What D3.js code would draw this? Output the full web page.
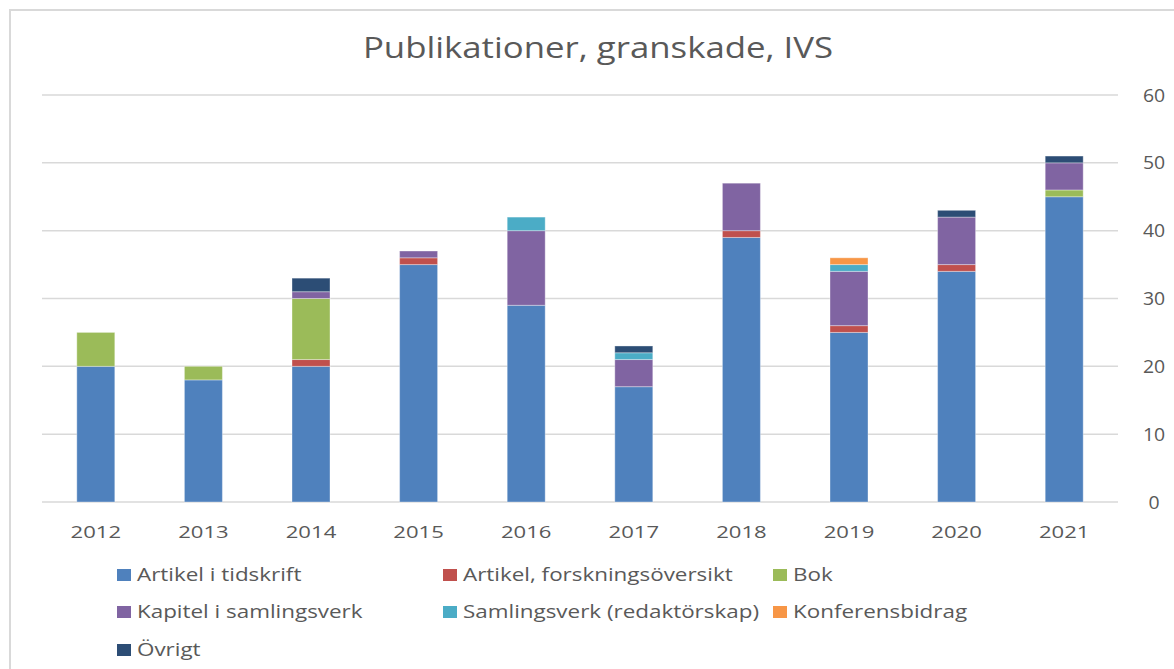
<!DOCTYPE html>
<html><head><meta charset="utf-8">
<script src="https://cdn.jsdelivr.net/npm/d3@7"></script>
<style>body{margin:0;background:#fff;}svg{display:block;font-family:"Open Sans",sans-serif;}</style>
</head><body>
<svg id="c" width="1174" height="669"></svg>
<script>
const years = ["2012","2013","2014","2015","2016","2017","2018","2019","2020","2021"];
const seriesNames = ["Artikel i tidskrift","Artikel, forskningsöversikt","Bok","Kapitel i samlingsverk","Samlingsverk (redaktörskap)","Konferensbidrag","Övrigt"];
const artikel      = [20,18,20,35,29,17,39,25,34,45];
const forskning    = [0,0,1,1,0,0,1,1,1,0];
const bok          = [5,2,9,0,0,0,0,0,0,1];
const kapitel      = [0,0,1,1,11,4,7,8,7,4];
const samlingsverk = [0,0,0,0,2,1,0,1,0,0];
const konferens    = [0,0,0,0,0,0,0,1,0,0];
const ovrigt       = [0,0,2,0,0,1,0,0,1,1];
const yTicks = [0,10,20,30,40,50,60];
const colors = ["#4F81BD","#C0504D","#9BBB59","#8064A2","#4BACC6","#F79646","#2C4D75"];

const seriesVals = [artikel,forskning,bok,kapitel,samlingsverk,konferens,ovrigt];
const rows = years.map((y,i)=>{const o={year:y}; seriesNames.forEach((n,k)=>o[n]=seriesVals[k][i]); return o;});
const stack = d3.stack().keys(seriesNames)(rows);

const svg = d3.select("#c");
const L=42, R=1118, T=95, B=502;
svg.append("rect").attr("x",10).attr("y",10).attr("width",1200).attr("height",700)
  .attr("fill","#fff").attr("stroke","#d9d9d9").attr("stroke-width",2);

const x = d3.scaleBand().domain(years).range([L,R]).paddingInner(0.647).paddingOuter(0.3235);
const y = d3.scaleLinear().domain([0,60]).range([B,T]);

// stretched text helper
function sText(g, sx, size){
  return g.append("text").attr("transform",`scale(${sx},1)`).attr("fill","#595959").attr("font-size",size);
}

svg.append("g").selectAll("line").data(yTicks).join("line")
  .attr("x1",L).attr("x2",R).attr("y1",d=>y(d)).attr("y2",d=>y(d))
  .attr("stroke","#d9d9d9").attr("stroke-width",1.5);

svg.append("g").selectAll("g").data(yTicks).join("g")
  .attr("transform",d=>`translate(1154,${y(d)+6.5})`)
  .each(function(d){ sText(d3.select(this),1.08,18).attr("text-anchor","middle").text(d); });

svg.append("g").selectAll("g").data(years).join("g")
  .attr("transform",d=>`translate(${x(d)+x.bandwidth()/2},537.5)`)
  .each(function(d){ sText(d3.select(this),1.3,17).attr("text-anchor","middle").text(d); });

svg.append("g").selectAll("g").data(stack).join("g").attr("fill",(d,i)=>colors[i])
  .selectAll("rect").data(d=>d.filter(p=>p[1]-p[0]>0)).join("rect")
  .attr("x",d=>x(d.data.year)).attr("width",x.bandwidth())
  .attr("y",d=>y(d[1])).attr("height",d=>y(d[0])-y(d[1]))
  .attr("stroke","#ffffff").attr("stroke-opacity",0.35).attr("stroke-width",1);

const tg = svg.append("g").attr("transform","translate(598,57.5)");
sText(tg,1.2,29).attr("text-anchor","middle").text("Publikationer, granskade, IVS");

const legPos = [[117,575],[443,575],[773,575],[117,612],[443,612],[773,612],[117,650]];
const lg = svg.append("g").selectAll("g").data(seriesNames).join("g")
  .attr("transform",(d,i)=>`translate(${legPos[i][0]},${legPos[i][1]})`);
lg.append("rect").attr("x",0).attr("y",-6).attr("width",14).attr("height",12).attr("fill",(d,i)=>colors[i]);
lg.append("g").attr("transform","translate(20,6)")
  .each(function(d){ sText(d3.select(this),1.18,19).text(d); });
</script>
</body></html>
